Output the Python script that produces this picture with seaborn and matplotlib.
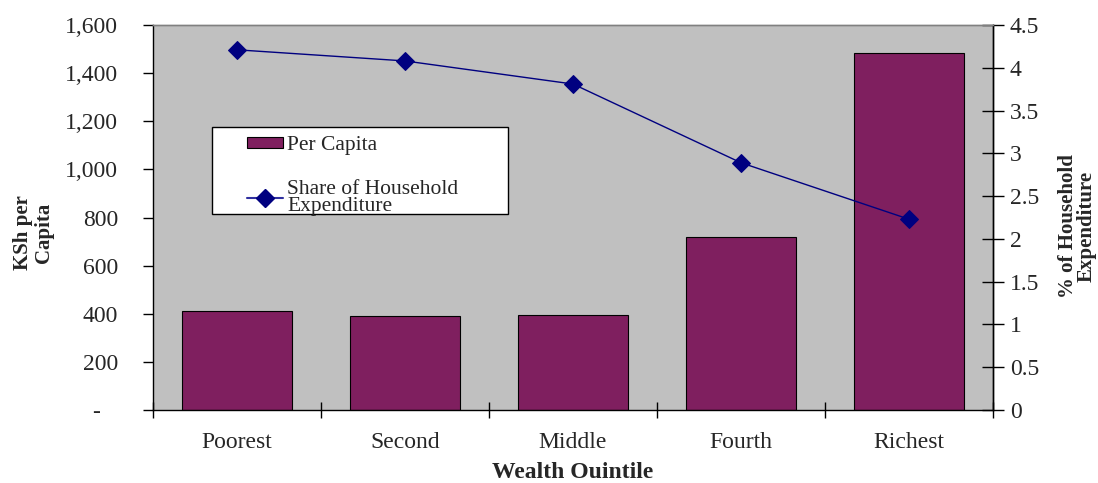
import matplotlib
matplotlib.use("Agg")
import matplotlib.pyplot as plt
import matplotlib.ticker as mticker
from matplotlib.patches import Patch, Rectangle
from matplotlib.lines import Line2D
import seaborn as sns
import pandas as pd
import numpy as np

# Data
quintiles = ["Poorest", "Second", "Middle", "Fourth", "Richest"]
per_capita = [411, 390, 395, 719, 1484]
share_pct = [4.21, 4.08, 3.81, 2.89, 2.23]

sns.set_theme(style="white")
plt.rcParams["font.family"] = ["Liberation Serif", "DejaVu Serif"]

BAR_COLOR = "#7F1F5F"
LINE_COLOR = "#000080"
BG = "#C0C0C0"

df = pd.DataFrame({"quintile": quintiles, "per_capita": per_capita, "share": share_pct})

fig = plt.figure(figsize=(10.98, 4.83), dpi=100)
ax = fig.add_axes([153 / 1098, 1 - 410 / 483, 840 / 1098, 385 / 483])
ax.set_facecolor(BG)

sns.barplot(data=df, x="quintile", y="per_capita", color=BAR_COLOR, saturation=1,
            edgecolor="black", linewidth=0.8, width=0.66, ax=ax)
ax.set_xlim(-0.5, 4.5)
ax.set_ylim(0, 1600)
ax.yaxis.set_major_locator(mticker.MultipleLocator(200))
ax.yaxis.set_major_formatter(
    mticker.FuncFormatter(lambda v, p: "-   " if v == 0 else f"{int(v):,}"))
ax.tick_params(axis="y", left=True, direction="out", length=7, width=1, labelsize=17,
               color="black", pad=18)

# category labels at centres, tick marks at category boundaries
ax.tick_params(axis="x", which="major", bottom=False, length=0, labelsize=17, pad=16)
ax.set_xticks(np.arange(-0.5, 5.0, 1.0), minor=True)
ax.tick_params(axis="x", which="minor", bottom=True, direction="inout", length=12,
               width=1, color="black")

ax.set_xlabel("Wealth Ouintile", fontsize=17, fontweight="bold", labelpad=6)
ax.set_ylabel("KSh per\nCapita", fontsize=15, fontweight="bold", linespacing=1.05)
ax.yaxis.set_label_coords(-0.118, 0.46)

ax2 = ax.twinx()
sns.lineplot(data=df, x="quintile", y="share", color=LINE_COLOR, linewidth=1,
             marker="D", markersize=9, markeredgecolor=LINE_COLOR, ax=ax2, sort=False)
ax2.set_ylim(0, 4.5)
ax2.set_xlim(-0.5, 4.5)
ax2.yaxis.set_major_locator(mticker.MultipleLocator(0.5))
ax2.yaxis.set_major_formatter(mticker.FuncFormatter(lambda v, p: f"{v:g}"))
ax2.tick_params(axis="y", right=True, direction="inout", length=16, width=1, labelsize=17,
                color="black", pad=4)
ax2.set_ylabel("% of Household\nExpenditure", fontsize=15, fontweight="bold",
               linespacing=0.92)
ax2.yaxis.set_label_coords(1.077, 0.478)

for a in (ax, ax2):
    for s in a.spines.values():
        s.set_color("black")
        s.set_linewidth(1)
    a.spines["top"].set_color("#808080")
ax2.spines["left"].set_visible(False)
ax2.spines["bottom"].set_visible(False)

# legend: white framed box with the entries placed inside it
ax2.add_patch(Rectangle((0.0702, 0.509), 0.3524, 0.226, transform=ax2.transAxes,
                        facecolor="white", edgecolor="black", linewidth=1, zorder=4))
handles = [
    Patch(facecolor=BAR_COLOR, edgecolor="black", linewidth=0.8, label="Per Capita"),
    Line2D([0], [0], color="#3030A0", linewidth=1.5, marker="D", markersize=9,
           markerfacecolor=LINE_COLOR, markeredgecolor=LINE_COLOR,
           label="Share of Household\nExpenditure"),
]
leg = ax2.legend(handles=handles, loc="upper left", bbox_to_anchor=(0.1119, 0.7117),
                 frameon=False, fontsize=15.5, handlelength=1.67, handleheight=0.45,
                 labelspacing=1.14, borderpad=0, borderaxespad=0, handletextpad=0.19)
leg.set_zorder(5)
leg.get_texts()[1].set_linespacing(0.9)

fig.savefig("out.png", dpi=100)
